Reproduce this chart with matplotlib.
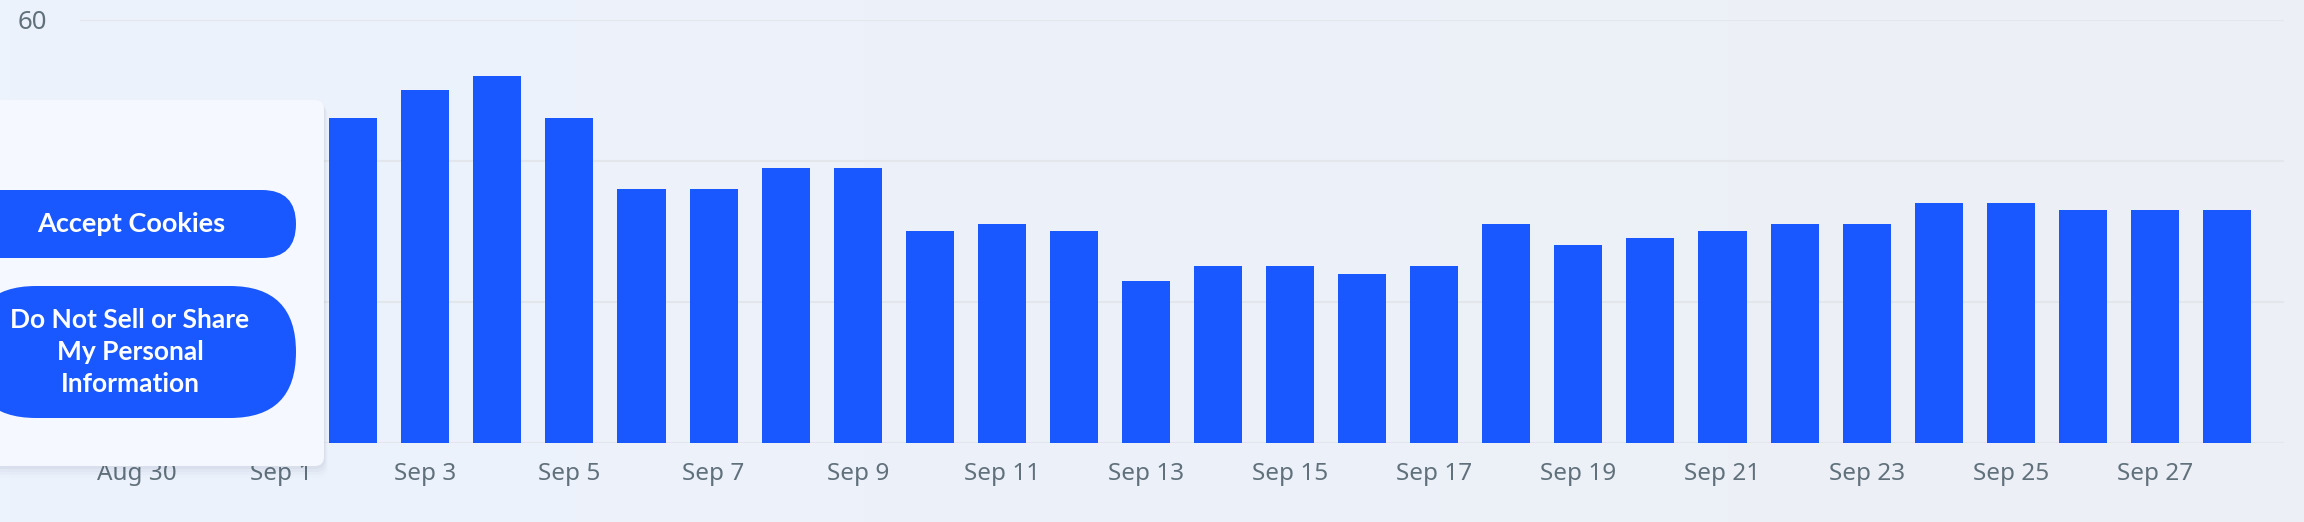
import numpy as np
import pandas as pd
import matplotlib
matplotlib.use("Agg")
import matplotlib.pyplot as plt
from matplotlib.patches import FancyBboxPatch

# daily values (Aug 30 - Sep 1 are hidden under the cookie panel, guessed)
days = pd.date_range("2024-08-30", "2024-09-28", freq="D")
values = [40, 43, 44, 46, 50, 52, 46, 36, 36, 39, 39, 30, 31, 30, 23,
          25, 25, 24, 25, 31, 28, 29, 30, 31, 31, 34, 34, 33, 33, 33]
grid_levels = [0, 20, 40, 60]
y_labels = ["60"]   # 0 / 20 / 40 sit under the panel

BAR = "#1a58ff"
GRID = "#e3e6eb"
TXT = "#61717c"

W, H = 2304, 522
fig = plt.figure(figsize=(W / 100, H / 100), dpi=100)

# background gradient
bg = fig.add_axes([0, 0, 1, 1], zorder=0)
grad = np.linspace(0, 1, 256).reshape(1, -1)
cmap = matplotlib.colors.LinearSegmentedColormap.from_list("bg", ["#edf3fd", "#eceff5"])
bg.imshow(grad, aspect="auto", cmap=cmap, extent=[0, 1, 0, 1])
bg.axis("off")

ax = fig.add_axes([80 / W, (H - 442.7) / H, (2284 - 80) / W, 423 / H], zorder=1)
ax.patch.set_alpha(0)
ax.bar(days, values, width=0.667, color=BAR, zorder=3)
for v in grid_levels:
    ax.axhline(v, color=GRID, lw=1.5, zorder=1)
ax.set_ylim(0, 60)
ax.set_xlim(days[0] - pd.Timedelta(hours=19), days[-1] + pd.Timedelta(hours=19))
ax.set_yticks([60])
ax.set_yticklabels(y_labels)
ax.set_xticks(days[::2])
ax.set_xticklabels([f"{d:%b} {d.day}" for d in days[::2]])
for s in ax.spines.values():
    s.set_visible(False)
ax.tick_params(axis="x", length=0, pad=14, labelsize=17.5, labelcolor=TXT)
ax.tick_params(axis="y", length=0, pad=24, labelsize=18.5, labelcolor=TXT)
for lab in ax.get_xticklabels() + ax.get_yticklabels():
    lab.set_fontfamily("Noto Sans")

# cookie consent panel on top
ov = fig.add_axes([0, 0, 1, 1], zorder=5)
ov.set_xlim(0, W)
ov.set_ylim(H, 0)
ov.axis("off")
ov.patch.set_alpha(0)
for i, a in enumerate([0.05, 0.04, 0.03, 0.02, 0.012]):
    ov.add_patch(FancyBboxPatch((-20 - i, 100 + i * 1.5), 344 + 2 * i, 366 + i * 1.5,
                                boxstyle="round,pad=0,rounding_size=10",
                                fc="#3a4a6a", ec="none", alpha=a))
ov.add_patch(FancyBboxPatch((-20, 100), 344, 366,
                            boxstyle="round,pad=0,rounding_size=9",
                            fc="#f5f8fe", ec="none"))
ov.add_patch(FancyBboxPatch((-80, 190), 376, 68,
                            boxstyle="round,pad=0,rounding_size=34",
                            fc=BAR, ec="none"))
ov.add_patch(FancyBboxPatch((-30, 286), 326, 132,
                            boxstyle="round,pad=0,rounding_size=66",
                            fc=BAR, ec="none"))
ov.text(131, 224, "Accept Cookies", color="white", fontsize=19.5,
        fontweight="bold", family="Lato", ha="center", va="center")
ov.text(130, 352, "Do Not Sell or Share\nMy Personal\nInformation", color="white",
        fontsize=19, fontweight="bold", family="Lato", ha="center", va="center",
        linespacing=1.38)

fig.savefig("out.png", dpi=100)
